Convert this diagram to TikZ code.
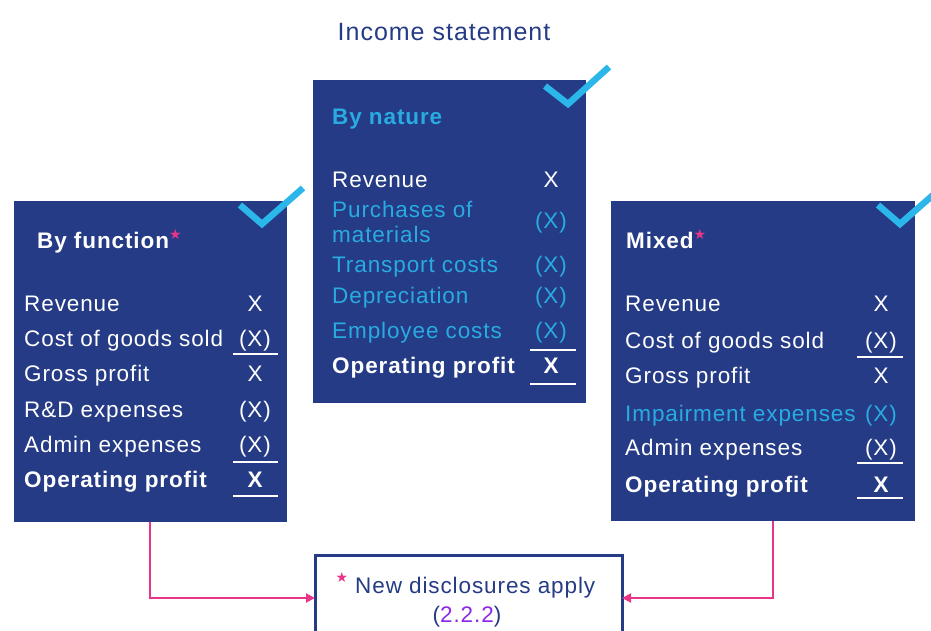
\documentclass[tikz,border=0pt]{standalone}
\usepackage{fontspec}
\setmainfont{Liberation Sans}[LetterSpace=4]
\newfontfamily\starfont{DejaVu Sans}
\usetikzlibrary{arrows.meta,positioning}

\definecolor{navy}{RGB}{37,59,133}
\definecolor{skyblue}{RGB}{41,171,226}
\definecolor{tickblue}{RGB}{44,183,234}
\definecolor{hotpink}{RGB}{232,53,138}
\definecolor{refpurple}{RGB}{140,40,230}

\newcommand{\pinkstar}{\textcolor{hotpink}{\starfont\fontsize{14}{14}\selectfont ★}}
\newcommand{\bodyfont}{\fontsize{22.5}{26}\selectfont}

\tikzset{
  panel/.style={fill=navy, inner sep=0pt, outer sep=0pt},
  row/.style={anchor=base west, inner sep=0pt, text=white, font=\bodyfont},
  val/.style={anchor=base, inner sep=0pt, text=white, font=\bodyfont},
  head/.style={row, font=\bodyfont\bfseries},
  checkmark/.style={draw=tickblue, line width=6.5pt},
  sumline/.style={draw=white, line width=1.6pt},
  feed/.style={draw=hotpink, line width=2pt, -{Triangle[length=9pt,width=9pt]}}
}

\begin{document}
\begin{tikzpicture}[x=1pt,y=-1pt]
  \useasboundingbox (0,0) rectangle (931,631);
  \clip (0,0) rectangle (931,631);

  % title
  \node[anchor=base, inner sep=0pt, text=navy, font=\fontsize{25}{28}\selectfont]
    (title) at (444,41) {Income statement};

  % the three panels
  \node[panel, minimum width=273pt, minimum height=321pt] (fn) at (150.5,361.5) {};
  \node[panel, minimum width=273pt, minimum height=323pt] (nat) at (449.5,241.5) {};
  \node[panel, minimum width=304pt, minimum height=320pt] (mx) at (763,361) {};

  % by function
  \node[head] (fn-head) at (37,248) {By function\raisebox{9pt}{\pinkstar}};
  \foreach \y/\name/\txt/\amt in {311/rev/Revenue/X, 346/cogs/Cost of goods sold/(X),
      381/gross/Gross profit/X, 417/rd/R\&D expenses/(X), 452/admin/Admin expenses/(X)}
  {\node[row] (fn-\name) at (24,\y) {\txt};
   \node[val] (fn-\name-v) at (255,\y) {\amt};}
  \node[head] (fn-op) at (24,487) {Operating profit};
  \node[val, font=\bodyfont\bfseries] (fn-op-v) at (255,487) {X};
  \draw[sumline] (233,354) -- (278,354);
  \draw[sumline] (233,462) -- (278,462);
  \draw[sumline] (233,496) -- (278,496);

  % by nature
  \node[head, text=skyblue] (nat-head) at (332,125) {By nature};
  \node[row] (nat-rev) at (332,188) {Revenue};
  \node[val] (nat-rev-v) at (551,188) {X};
  \node[row, text=skyblue] (nat-pur) at (332,218) {Purchases of};
  \node[row, text=skyblue] (nat-mat) at (332,242) {materials};
  \node[val, text=skyblue] (nat-pur-v) at (551,229) {(X)};
  \foreach \y/\name/\txt in {272/trans/Transport costs, 303/dep/Depreciation, 338/emp/Employee costs}
  {\node[row, text=skyblue] (nat-\name) at (332,\y) {\txt};
   \node[val, text=skyblue] (nat-\name-v) at (551,\y) {(X)};}
  \node[head] (nat-op) at (332,373) {Operating profit};
  \node[val, font=\bodyfont\bfseries] (nat-op-v) at (551,373) {X};
  \draw[sumline] (530,350) -- (576,350);
  \draw[sumline] (530,384) -- (576,384);

  % mixed
  \node[head] (mx-head) at (626,248) {Mixed\raisebox{9pt}{\pinkstar}};
  \foreach \y/\name/\txt/\amt in {311/rev/Revenue/X, 348/cogs/Cost of goods sold/(X),
      383/gross/Gross profit/X, 455/admin/Admin expenses/(X)}
  {\node[row] (mx-\name) at (625,\y) {\txt};
   \node[val] (mx-\name-v) at (881,\y) {\amt};}
  \node[row, text=skyblue] (mx-imp) at (625,421) {Impairment expenses};
  \node[val, text=skyblue] (mx-imp-v) at (881,421) {(X)};
  \node[head] (mx-op) at (625,492) {Operating profit};
  \node[val, font=\bodyfont\bfseries] (mx-op-v) at (881,492) {X};
  \draw[sumline] (857,357) -- (903,357);
  \draw[sumline] (857,463) -- (903,463);
  \draw[sumline] (857,498) -- (903,498);

  % ticks
  \draw[checkmark] (545,86) -- (568,104) -- (609,67);
  \draw[checkmark] (240,205) -- (262,224) -- (303,188);
  \draw[checkmark] (878,205) -- (900,224) -- (941,188);

  % note
  \node[draw=navy, line width=3pt, fill=white, inner sep=0pt, outer sep=0pt,
    minimum width=307pt, minimum height=86pt] (note) at (468.5,598) {};
  \node[inner sep=0pt] (note-star) at (342,577) {\pinkstar};
  \node[anchor=base west, inner sep=0pt, text=navy, font=\bodyfont] (note-txt) at (355,593)
    {New disclosures apply};
  \node[anchor=base, inner sep=0pt, text=navy, font=\bodyfont] (note-ref) at (467,622)
    {(\textcolor{refpurple}{2.2.2})};

  % connectors
  \draw[feed] ([xshift=136pt]fn.south west) |- (note.west);
  \draw[feed] ([xshift=162pt]mx.south west) |- (note.east);
\end{tikzpicture}
\end{document}
